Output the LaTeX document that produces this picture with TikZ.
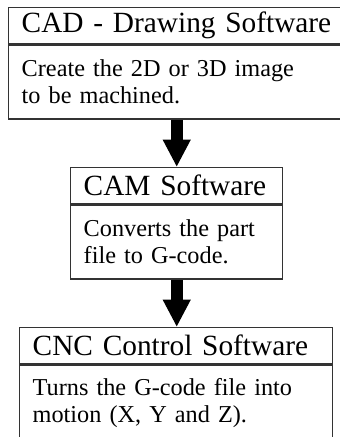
\documentclass[tikz,border=0pt]{standalone}
\usepackage{fontspec}
\setmainfont{Liberation Serif}
\usetikzlibrary{arrows.meta, positioning}

\tikzset{
  boxtitle/.style={draw=black!80, line width=1.1pt, fill=white, anchor=north west,
    inner xsep=9.75pt, inner ysep=0pt, minimum height=27pt, align=left,
    font=\fontsize{22}{27}\selectfont},
  boxbody/.style={draw=black!80, line width=1.1pt, fill=white, anchor=north west,
    inner xsep=9.75pt, inner ysep=0pt, align=left,
    font=\fontsize{18.2}{20.2}\selectfont},
  flowarrow/.style={line width=9pt, -{Triangle[length=20.5pt 0 0, width=19.5pt 0 0]}}
}

\begin{document}
\begin{tikzpicture}[x=0.75pt, y=-0.75pt]
  \useasboundingbox (0,0) rectangle (340,437);
  % CAD box (runs past the right edge)
  \node[boxtitle, text width=236pt] (cadtitle) at (8,7) {CAD - Drawing Software};
  \node[boxbody, text width=236pt, minimum height=55.5pt] (cadbody) at (cadtitle.south west) {Create the 2D or 3D image\\to be machined.};
  % CAM box
  \node[boxtitle, text width=139.5pt] (camtitle) at (70,167) {CAM Software};
  \node[boxbody, text width=139.5pt, minimum height=55.5pt] (cambody) at (camtitle.south west) {Converts the part\\file to G-code.};
  % CNC box
  \node[boxtitle, text width=215.25pt] (cnctitle) at (19,327) {CNC Control Software};
  \node[boxbody, text width=215.25pt, minimum height=57pt] (cncbody) at (cnctitle.south west) {Turns the G-code file into\\motion (X, Y and Z).};
  % arrows
  \draw[flowarrow] (camtitle.north |- cadbody.south) -- (camtitle.north);
  \draw[flowarrow] (cambody.south) -- (cambody.south |- cnctitle.north);
\end{tikzpicture}
\end{document}
